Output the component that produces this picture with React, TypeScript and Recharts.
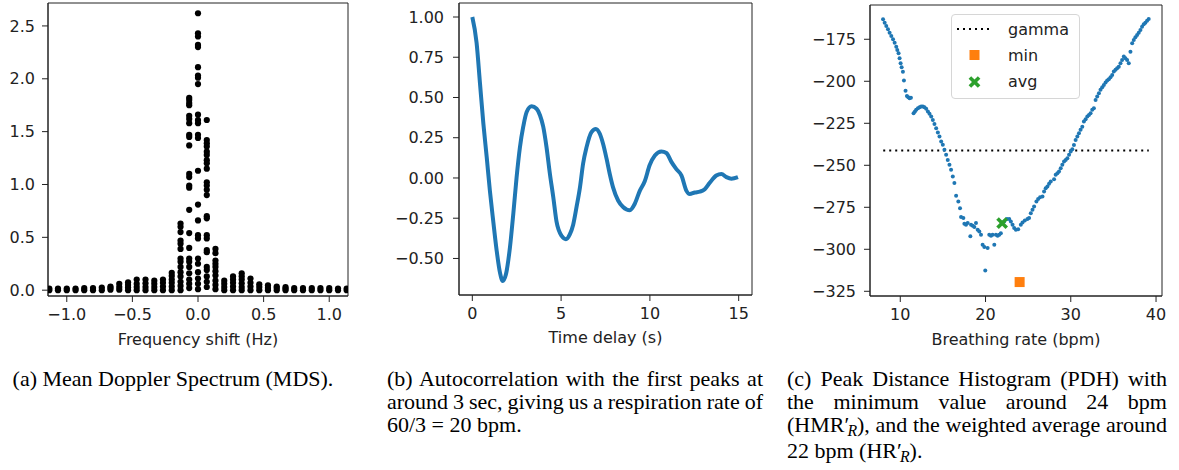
import React from "react";
import {
  ScatterChart,
  Scatter,
  LineChart,
  Line,
  ComposedChart,
  XAxis,
  YAxis,
  Legend,
  ReferenceArea,
} from "recharts";

// (a) Mean Doppler Spectrum: frequency bins and the values observed in each
const mdsFreqs = [
  -1.133, -1.067, -1.0, -0.933, -0.867, -0.8, -0.733, -0.667, -0.6, -0.533, -0.467, -0.4,
  -0.333, -0.267, -0.2, -0.133, -0.067, 0, 0.067, 0.133, 0.2, 0.267, 0.333, 0.4, 0.467,
  0.533, 0.6, 0.667, 0.733, 0.8, 0.867, 0.933, 1.0, 1.067, 1.133,
];
const mdsValues = [
  [0, 0.015], [0, 0.015], [0, 0.015], [0, 0.015], [0, 0.02], [0, 0.02], [0, 0.025],
  [0.005, 0.02, 0.035],
  [0.005, 0.03, 0.06],
  [0, 0.025, 0.05, 0.075],
  [0, 0.03, 0.06, 0.1],
  [0, 0.03, 0.065, 0.1],
  [0, 0.03, 0.06, 0.09],
  [0, 0.035, 0.07, 0.1],
  [0, 0.035, 0.07, 0.1, 0.135, 0.165],
  [0, 0.04, 0.08, 0.13, 0.17, 0.22, 0.27, 0.3, 0.39, 0.44, 0.47, 0.55, 0.6, 0.63],
  [0.02, 0.06, 0.1, 0.16, 0.22, 0.27, 0.3, 0.4, 0.54, 0.76, 0.97, 0.99, 1.07, 1.1, 1.37, 1.45,
    1.47, 1.58, 1.62, 1.65, 1.75, 1.77, 1.8, 1.82],
  [0.01, 0.06, 0.11, 0.17, 0.25, 0.3, 0.49, 0.52, 0.66, 0.81, 1.13, 1.44, 1.47, 1.58, 1.61,
    1.66, 1.95, 2.01, 2.03, 2.11, 2.3, 2.32, 2.4, 2.43, 2.62],
  [0.03, 0.08, 0.13, 0.19, 0.22, 0.36, 0.38, 0.49, 0.52, 0.68, 0.7, 0.9, 0.95, 0.99, 1.02,
    1.15, 1.2, 1.23, 1.28, 1.31, 1.36, 1.39, 1.42, 1.61],
  [0.01, 0.05, 0.09, 0.14, 0.18, 0.22, 0.25, 0.28, 0.35, 0.39],
  [0, 0.03, 0.06, 0.09],
  [0, 0.035, 0.07, 0.1, 0.13],
  [0, 0.03, 0.065, 0.1, 0.13, 0.16],
  [0, 0.035, 0.07, 0.11],
  [0, 0.03, 0.055],
  [0, 0.02, 0.045],
  [0, 0.02, 0.035],
  [0, 0.015, 0.03],
  [0, 0.02], [0, 0.02], [0, 0.02], [0, 0.02], [0, 0.02], [0, 0.015], [0, 0.015],
];
const mdsDomainX = [-1.143, 1.143];
const mdsDomainY = [-0.055, 2.717];
const mdsTicksX = [-1, -0.5, 0, 0.5, 1];
const mdsTicksY = [0, 0.5, 1, 1.5, 2, 2.5];

// (b) autocorrelation
const acfDelay = [
  0, 0.24, 0.43, 0.62, 0.81, 0.99, 1.18, 1.37, 1.56, 1.71, 1.89, 2.12, 2.31, 2.49, 2.68, 2.87,
  3.06, 3.34, 3.62, 3.81, 3.99, 4.18, 4.37, 4.56, 4.74, 5.03, 5.27, 5.49, 5.68, 5.87, 6.06,
  6.24, 6.43, 6.71, 6.96, 7.18, 7.37, 7.56, 7.74, 7.93, 8.21, 8.49, 8.87, 9.15, 9.43, 9.71,
  9.99, 10.28, 10.65, 10.93, 11.21, 11.49, 11.78, 12.06, 12.24, 12.53, 12.81, 13.09, 13.37,
  13.74, 14.03, 14.31, 14.59, 14.96,
];
const acfValue = [
  1.0, 0.84, 0.59, 0.34, 0.13, -0.08, -0.27, -0.45, -0.59, -0.64, -0.6, -0.43, -0.22, 0.0,
  0.19, 0.32, 0.41, 0.445, 0.43, 0.39, 0.32, 0.19, 0.025, -0.12, -0.27, -0.36, -0.38, -0.35,
  -0.29, -0.18, -0.06, 0.09, 0.19, 0.285, 0.305, 0.275, 0.21, 0.12, 0.025, -0.06, -0.14,
  -0.18, -0.2, -0.16, -0.08, -0.02, 0.08, 0.14, 0.165, 0.155, 0.1, 0.055, 0.015, -0.08, -0.1,
  -0.09, -0.085, -0.07, -0.03, 0.015, 0.025, 0.005, -0.005, 0.005,
];
const acfDomainX = [-0.75, 15.75];
const acfDomainY = [-0.727, 1.087];
const acfTicksX = [0, 5, 10, 15];
const acfTicksY = [-0.5, -0.25, 0, 0.25, 0.5, 0.75, 1];

// (c) peak distance histogram
const pdhRate = [
  7.98, 8.17, 8.36, 8.56, 8.75, 8.95, 9.15, 9.34, 9.53, 9.65, 9.8, 9.92, 10.04, 10.16, 10.31,
  10.43, 10.62, 10.78, 10.94, 11.09, 11.25, 11.56, 11.72, 11.87, 12.07, 12.26, 12.45, 12.65,
  12.84, 13.04, 13.24, 13.43, 13.63, 13.82, 14.01, 14.21, 14.41, 14.6, 14.8, 14.99, 15.18,
  15.38, 15.57, 15.77, 15.96, 16.16, 16.35, 16.55, 16.81, 17.01, 17.13, 17.4, 17.52, 17.71,
  17.91, 18.22, 18.3, 18.5, 18.69, 18.88, 19.08, 19.27, 19.47, 19.66, 19.86, 19.97, 20.25,
  20.44, 20.64, 20.83, 21.03, 21.22, 21.42, 21.61, 21.8, 22.19, 22.51, 22.78, 22.97, 23.17,
  23.36, 23.56, 23.83, 24.14, 24.34, 24.61, 24.92, 25.11, 25.31, 25.51, 25.7, 25.97, 26.17,
  26.4, 26.68, 26.87, 27.06, 27.26, 27.45, 27.65, 28.04, 28.23, 28.43, 28.62, 28.82, 29.01,
  29.21, 29.4, 29.6, 29.8, 29.99, 30.18, 30.37, 30.57, 30.77, 30.96, 31.15, 31.35, 31.54,
  31.74, 31.94, 32.13, 32.32, 32.52, 32.71, 32.91, 33.1, 33.3, 33.49, 33.69, 33.88, 34.08,
  34.27, 34.46, 34.66, 34.86, 35.05, 35.25, 35.44, 35.63, 35.83, 36.02, 36.22, 36.41, 36.61,
  36.8, 37.0, 37.2, 37.39, 37.58, 37.78, 37.97, 38.17, 38.36, 38.56, 38.75, 38.95, 39.14,
];
const pdhValue = [
  -163.1, -165.1, -167.1, -169.1, -171.1, -173.0, -175.0, -177.0, -179.4, -181.4, -183.3,
  -186.3, -189.3, -191.6, -194.3, -199.6, -205.7, -208.7, -209.5, -210.1, -209.8, -219.0,
  -218.0, -217.0, -216.0, -215.4, -215.0, -215.0, -215.4, -216.4, -218.0, -219.4, -221.0,
  -223.0, -225.5, -227.9, -230.5, -232.9, -235.9, -237.8, -240.8, -243.8, -246.8, -249.7,
  -252.7, -256.7, -260.6, -268.2, -271.5, -275.5, -280.8, -281.4, -284.8, -285.4, -284.4,
  -292.3, -285.4, -286.0, -286.8, -284.4, -288.4, -289.4, -291.4, -297.3, -298.7, -312.6,
  -299.3, -291.4, -292.0, -291.4, -297.3, -291.4, -292.0, -291.4, -290.4, -283.4, -282.0,
  -282.0, -283.4, -285.4, -287.4, -288.4, -288.0, -285.4, -284.0, -282.8, -282.0, -281.4,
  -278.5, -276.5, -274.5, -271.5, -270.1, -269.0, -268.6, -265.6, -263.6, -262.6, -261.0,
  -259.6, -258.3, -255.7, -254.7, -253.7, -251.7, -249.7, -247.8, -246.8, -245.8, -243.8,
  -241.8, -240.5, -238.0, -234.9, -232.9, -230.9, -228.9, -227.0, -224.0, -222.6, -221.0,
  -220.0, -219.0, -217.0, -216.0, -211.1, -209.1, -207.1, -205.1, -203.5, -202.2, -200.8,
  -199.6, -198.8, -197.6, -196.2, -194.2, -193.2, -192.2, -191.3, -189.3, -187.3, -185.3,
  -186.3, -187.3, -189.3, -182.4, -177.4, -175.4, -173.8, -172.4, -171.1, -169.5, -167.5,
  -166.1, -165.1, -163.9, -162.9,
];
const gammaRate = [8.0, 39.15];
const gammaLevel = -241.2;
const minPoint = [24.0, -319.5];
const avgPoint = [21.95, -284.4];
const pdhDomainX = [6.45, 40.7];
const pdhDomainY = [-327.8, -154.6];
const pdhTicksX = [10, 20, 30, 40];
const pdhTicksY = [-325, -300, -275, -250, -225, -200, -175];
const legendNames = ["gamma", "min", "avg"];

const BLUE = "#1f77b4";
const INK = "#222";

const mdsData = mdsFreqs.flatMap((f, i) => mdsValues[i].map((v) => ({ x: f, y: v })));
const acfData = acfDelay.map((t, i) => ({ x: t, y: acfValue[i] }));
const pdhData = pdhRate.map((r, i) => ({ x: r, y: pdhValue[i] }));
const gammaData = gammaRate.map((r) => ({ x: r, y: gammaLevel }));
const minData = [{ x: minPoint[0], y: minPoint[1] }];
const avgData = [{ x: avgPoint[0], y: avgPoint[1] }];

const fmt = (d: number) => (v: number) => v.toFixed(d).replace("-", "\u2212");
const tickStyle = { fontSize: 16, fill: INK };

const Dot = (r: number, color: string) => (p: any) =>
  <circle cx={p.cx} cy={p.cy} r={r} fill={color} />;
const Square = (p: any) => (
  <rect x={p.cx - 5} y={p.cy - 5} width={10} height={10} fill="#ff7f0e" />
);
const XMark = (p: any) => (
  <g stroke="#2ca02c" strokeWidth={3.6}>
    <line x1={p.cx - 4.6} y1={p.cy - 4.6} x2={p.cx + 4.6} y2={p.cy + 4.6} />
    <line x1={p.cx - 4.6} y1={p.cy + 4.6} x2={p.cx + 4.6} y2={p.cy - 4.6} />
  </g>
);

// the matplotlib box around the axes
const frame = (xd: number[], yd: number[]) => (
  <ReferenceArea x1={xd[0]} x2={xd[1]} y1={yd[0]} y2={yd[1]} fill="none" stroke={INK}
    strokeWidth={1} fillOpacity={0} />
);

function PdhLegend() {
  const icon = (name: string) => {
    if (name === "gamma")
      return <line x1={0} y1={9} x2={35} y2={9} stroke="#000" strokeWidth={2} strokeDasharray="2 4" />;
    if (name === "min") return <rect x={12.5} y={4} width={10} height={10} fill="#ff7f0e" />;
    return (
      <g stroke="#2ca02c" strokeWidth={3.6}>
        <line x1={12.9} y1={4.4} x2={22.1} y2={13.6} />
        <line x1={12.9} y1={13.6} x2={22.1} y2={4.4} />
      </g>
    );
  };
  return (
    <div
      style={{
        width: 129,
        height: 85,
        boxSizing: "border-box",
        border: "1px solid #d6d6d6",
        borderRadius: 4,
        background: "rgba(255,255,255,0.85)",
        paddingTop: 1,
        fontSize: 16,
        color: INK,
      }}
    >
      {legendNames.map((n) => (
        <div key={n} style={{ display: "flex", alignItems: "center", height: 26.3 }}>
          <svg width={35} height={18} style={{ marginLeft: 5, marginRight: 16 }}>
            {icon(n)}
          </svg>
          <span>{n}</span>
        </div>
      ))}
    </div>
  );
}

const capLine = {
  textAlign: "justify" as const,
  textAlignLast: "justify" as const,
};
const sub = (t: string) => (
  <i style={{ fontSize: "0.72em", position: "relative", top: "0.26em", marginLeft: "-0.12em" }}>{t}</i>
);

export default function App() {
  return (
    <div
      style={{
        position: "absolute",
        left: 0,
        top: 0,
        width: 1179,
        height: 470,
        background: "#fff",
        fontFamily: '"DejaVu Sans", sans-serif',
        overflow: "hidden",
      }}
    >
      {/* (a) */}
      <div style={{ position: "absolute", left: 0, top: 0 }}>
        <ScatterChart width={360} height={360} margin={{ top: 3, right: 12, bottom: 10, left: 0 }}>
          <XAxis
            type="number"
            dataKey="x"
            domain={mdsDomainX}
            allowDataOverflow
            ticks={mdsTicksX}
            tickFormatter={fmt(1)}
            height={54}
            stroke={INK}
            tickSize={6}
            tickMargin={7}
            tick={tickStyle}
            label={{ value: "Frequency shift (Hz)", position: "insideBottom", offset: 5, fontSize: 16, fill: INK }}
          />
          <YAxis
            type="number"
            dataKey="y"
            domain={mdsDomainY}
            allowDataOverflow
            ticks={mdsTicksY}
            tickFormatter={fmt(1)}
            width={48}
            stroke={INK}
            tickSize={6}
            tickMargin={7}
            tick={tickStyle}
          />
          <Scatter data={mdsData} shape={Dot(3.1, "#000")} isAnimationActive={false} />
          {frame(mdsDomainX, mdsDomainY)}
        </ScatterChart>
      </div>

      {/* (b) */}
      <div style={{ position: "absolute", left: 380, top: 0 }}>
        <LineChart width={390} height={360} data={acfData} margin={{ top: 3, right: 18, bottom: 10, left: 0 }}>
          <XAxis
            type="number"
            dataKey="x"
            domain={acfDomainX}
            allowDataOverflow
            ticks={acfTicksX}
            tickFormatter={fmt(0)}
            height={55}
            stroke={INK}
            tickSize={6}
            tickMargin={7}
            tick={tickStyle}
            label={{ value: "Time delay (s)", position: "insideBottom", offset: 7, fontSize: 16, fill: INK }}
          />
          <YAxis
            type="number"
            domain={acfDomainY}
            allowDataOverflow
            ticks={acfTicksY}
            tickFormatter={fmt(2)}
            width={79}
            stroke={INK}
            tickSize={6}
            tickMargin={9}
            tick={tickStyle}
          />
          <Line type="monotone" dataKey="y" stroke={BLUE} strokeWidth={4} dot={false} isAnimationActive={false} />
          {frame(acfDomainX, acfDomainY)}
        </LineChart>
      </div>

      {/* (c) */}
      <div style={{ position: "absolute", left: 790, top: 0 }}>
        <ComposedChart width={389} height={360} margin={{ top: 5, right: 17, bottom: 10, left: 0 }}>
          <XAxis
            type="number"
            dataKey="x"
            domain={pdhDomainX}
            allowDataOverflow
            ticks={pdhTicksX}
            tickFormatter={fmt(0)}
            height={54}
            stroke={INK}
            tickSize={6}
            tickMargin={7}
            tick={tickStyle}
            label={{ value: "Breathing rate (bpm)", position: "insideBottom", offset: 5, fontSize: 16, fill: INK }}
          />
          <YAxis
            type="number"
            dataKey="y"
            domain={pdhDomainY}
            allowDataOverflow
            ticks={pdhTicksY}
            tickFormatter={fmt(0)}
            width={80}
            stroke={INK}
            tickSize={6}
            tickMargin={8}
            tick={tickStyle}
          />
          <Scatter data={pdhData} shape={Dot(2.0, BLUE)} isAnimationActive={false} legendType="none" />
          <Line data={gammaData} dataKey="y" stroke="#000" strokeWidth={2} strokeDasharray="2 4"
            dot={false} isAnimationActive={false} name="gamma" />
          <Scatter data={minData} shape={Square} isAnimationActive={false} name="min" />
          <Scatter data={avgData} shape={XMark} isAnimationActive={false} name="avg" />
          {frame(pdhDomainX, pdhDomainY)}
          <Legend
            layout="vertical"
            align="center"
            verticalAlign="middle"
            content={() => <PdhLegend />}
            wrapperStyle={{ left: 161, top: 14, width: 129, height: 85 }}
          />
        </ComposedChart>
      </div>

      {/* captions */}
      <div
        style={{
          position: "absolute",
          top: 366.5,
          left: 0,
          width: 1179,
          fontFamily: '"Liberation Serif", "Times New Roman", serif',
          fontSize: 22,
          lineHeight: "23.4px",
          color: "#000",
        }}
      >
        <div style={{ position: "absolute", left: 0, width: 346, textAlign: "center" }}>
          (a) Mean Doppler Spectrum (MDS).
        </div>
        <div style={{ position: "absolute", left: 387, width: 376 }}>
          <div style={capLine}>(b) Autocorrelation with the first peaks at</div>
          <div style={{ ...capLine, wordSpacing: -1 }}>around 3 sec, giving us a respiration rate of</div>
          <div>60/3&nbsp;=&nbsp;20 bpm.</div>
        </div>
        <div style={{ position: "absolute", left: 787, width: 380 }}>
          <div style={capLine}>(c) Peak Distance Histogram (PDH) with</div>
          <div style={capLine}>the minimum value around 24 bpm</div>
          <div style={capLine}>
            (HMR′{sub("R")}), and the weighted average around
          </div>
          <div>
            22 bpm (HR′{sub("R")}).
          </div>
        </div>
      </div>
    </div>
  );
}
